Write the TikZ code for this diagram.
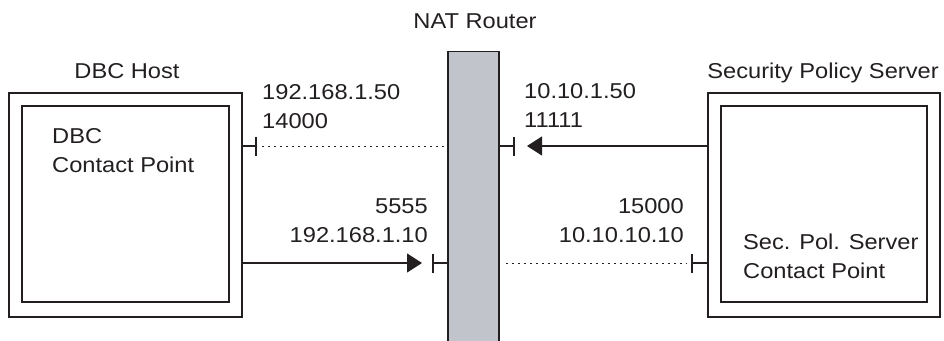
\documentclass[tikz,border=0pt]{standalone}
\usepackage{fontspec}
\setmainfont{Liberation Sans}[FakeStretch=1.1]
\usetikzlibrary{arrows.meta}
\definecolor{routergray}{RGB}{193,197,203}
\definecolor{ink}{RGB}{35,31,32}
\begin{document}
\begin{tikzpicture}[x=1pt,y=-1pt,
  box/.style={draw=ink,line width=1.3pt,inner sep=0pt,fill=white},
  lbl/.style={inner sep=0pt,text=ink,font=\fontsize{21.5}{29}\selectfont},
  solidline/.style={draw=ink,line width=1.2pt},
  dotline/.style={draw=ink,line width=1pt,dash pattern=on 2pt off 4pt},
  arr/.style={-{Triangle[length=15pt,width=19pt]}},
  teebar/.style={draw=ink,line width=1.8pt}]
\useasboundingbox (0,0) rectangle (944,340);
% boxes
\node[box,minimum width=233pt,minimum height=224pt] (hostout) at (125.5,205) {};
\node[box,minimum width=207pt,minimum height=196pt] (hostin) at (125.5,204) {};
\node[box,minimum width=232pt,minimum height=224pt] (spsout) at (824,205) {};
\node[box,minimum width=206pt,minimum height=196pt] (spsin) at (824,204) {};
\node[box,fill=routergray,minimum width=51pt,minimum height=300pt,anchor=north] (router) at (473.5,51) {};
% titles
\node[lbl,anchor=base] (thost) at (127,78) {DBC Host};
\node[lbl,anchor=base] (trouter) at (475,28) {NAT Router};
\node[lbl,anchor=base] (tsps) at (823,78) {Security Policy Server};
\node[lbl,anchor=base west,align=left] (tdbc) at (52,172) {DBC\\Contact Point};
\node[lbl,anchor=base west,align=left] (tscp) at (743,278) {Sec. Pol. Server\\Contact Point};
% address labels
\node[lbl,anchor=base west,align=left] (a1) at (262,128) {192.168.1.50\\14000};
\node[lbl,anchor=base west,align=left] (a2) at (524,127) {10.10.1.50\\11111};
\node[lbl,anchor=base east,align=right] (a3) at (428,242) {5555\\192.168.1.10};
\node[lbl,anchor=base east,align=right] (a4) at (684,242) {15000\\10.10.10.10};
% coordinates
\coordinate (h1) at (hostout.east |- 0,146);
\coordinate (t1) at (256,146);
\coordinate (r1) at (router.west |- 0,146);
\coordinate (r2) at (router.east |- 0,146);
\coordinate (t2) at (514,146);
\coordinate (p2) at (527,146);
\coordinate (s2) at (spsout.west |- 0,146);
\coordinate (h3) at (hostout.east |- 0,263);
\coordinate (p3) at (422,263);
\coordinate (t3) at (433,263);
\coordinate (r3) at (router.west |- 0,263);
\coordinate (r4) at (router.east |- 0,263);
\coordinate (t4) at (692,263);
\coordinate (s4) at (spsout.west |- 0,263);
% top connection
\draw[solidline] (h1) -- (t1);
\draw[teebar] ([yshift=-9.5pt]t1) -- ([yshift=9.5pt]t1);
\draw[dotline] ([xshift=6pt]t1) -- (r1);
\draw[solidline] (r2) -- (t2);
\draw[teebar] ([yshift=-9.5pt]t2) -- ([yshift=9.5pt]t2);
\draw[solidline,arr] (s2) -- (p2);
% bottom connection
\draw[solidline,arr] (h3) -- (p3);
\draw[teebar] ([yshift=-9.5pt]t3) -- ([yshift=9.5pt]t3);
\draw[solidline] (t3) -- (r3);
\draw[dotline] ([xshift=6pt]r4) -- ([xshift=-6pt]t4);
\draw[teebar] ([yshift=-9.5pt]t4) -- ([yshift=9.5pt]t4);
\draw[solidline] (t4) -- (s4);
\end{tikzpicture}
\end{document}
